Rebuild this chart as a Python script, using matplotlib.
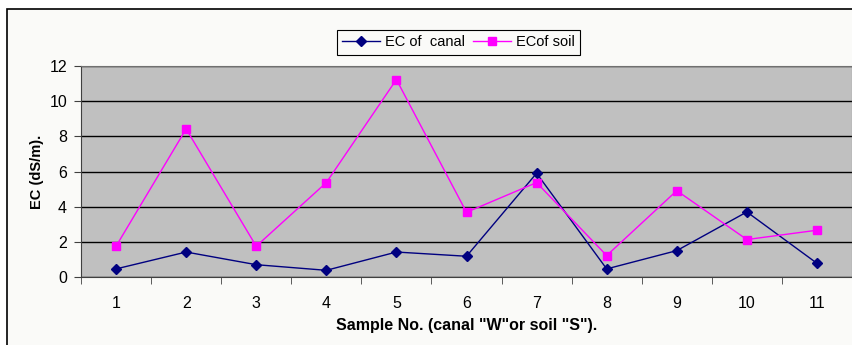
import numpy as np
import matplotlib
matplotlib.use("Agg")
import matplotlib.pyplot as plt
from matplotlib.patches import Rectangle

plt.rcParams['font.family'] = ['Liberation Sans', 'DejaVu Sans']

samples = [1, 2, 3, 4, 5, 6, 7, 8, 9, 10, 11]
ec_canal = [0.46, 1.42, 0.70, 0.38, 1.42, 1.18, 5.90, 0.46, 1.50, 3.70, 0.78]
ec_soil = [1.75, 8.42, 1.75, 5.37, 11.23, 3.68, 5.37, 1.22, 4.91, 2.13, 2.66]

W, H = 852, 345
fig = plt.figure(figsize=(W / 100, H / 100), dpi=100)
fig.patch.set_facecolor('white')

# outer chart frame (clipped on the right and bottom like the source)
frame = Rectangle((7 / W, -0.05), 1.0, 1 - 9 / H + 0.05, transform=fig.transFigure,
                  facecolor='#fafaf8', edgecolor='black', linewidth=1.2, zorder=-1)
fig.patches.append(frame)

ax = fig.add_axes([81 / W, 1 - 277 / H, 771 / W, 211 / H])
ax.set_facecolor('#c0c0c0')

ax.plot(samples, ec_canal, color='#000080', marker='D', markersize=5, linewidth=1,
        label='EC of  canal', zorder=3)
ax.plot(samples, ec_soil, color='#ff00ff', marker='s', markersize=6, linewidth=1,
        label='ECof soil', zorder=3)

ax.set_xlim(0.5, 11.5)
ax.set_ylim(0, 12)
ax.set_yticks(range(0, 13, 2))
ax.set_xticks(samples)
ax.set_xticks(np.arange(0.5, 12, 1), minor=True)
ax.tick_params(axis='x', which='major', length=0, pad=14, labelsize=11.5)
ax.tick_params(axis='x', which='minor', length=5, direction='out', color='#404040')
ax.tick_params(axis='y', length=5, direction='out', color='#404040', labelsize=11.5, pad=5)
ax.grid(axis='y', color='black', linewidth=1)
ax.set_axisbelow(True)

for side in ['top', 'right']:
    ax.spines[side].set_color('#707070')
for side in ['left', 'bottom']:
    ax.spines[side].set_color('#404040')

ax.set_xlabel('Sample No. (canal "W"or soil "S").', fontsize=11.5, fontweight='bold', labelpad=5)
ax.set_ylabel('EC (dS/m).', fontsize=10.5, fontweight='bold', labelpad=4)

leg = fig.legend(loc='center', bbox_to_anchor=(458.5 / W, 1 - 42.5 / H), ncol=2,
                 fontsize=10.5, frameon=True, fancybox=False, edgecolor='black',
                 framealpha=1, facecolor='#fafaf8', handlelength=2.6,
                 columnspacing=0.6, handletextpad=0.3, borderpad=0.4)
leg.get_frame().set_linewidth(0.8)

fig.savefig('out.png', dpi=100)
